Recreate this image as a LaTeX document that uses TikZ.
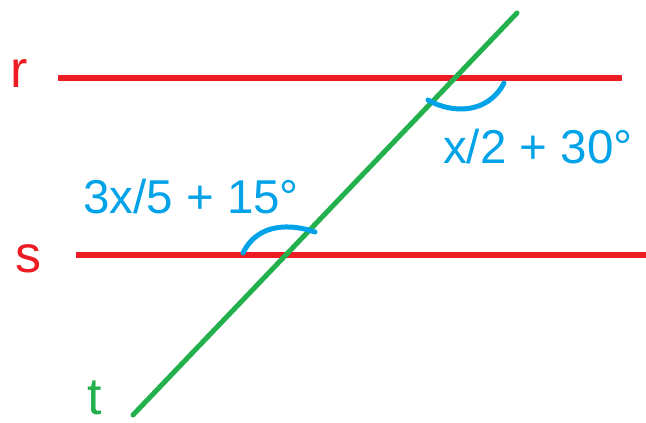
\documentclass[tikz,border=0pt]{standalone}
\usepackage{fontspec}
\setmainfont{Liberation Sans}
\usetikzlibrary{positioning}
\definecolor{paintRed}{RGB}{237,28,36}
\definecolor{paintGreen}{RGB}{34,177,76}
\definecolor{paintBlue}{RGB}{0,162,232}

\begin{document}
\begin{tikzpicture}[
  x=1pt, y=-1pt,
  parallel/.style={draw=paintRed, line width=5.5pt},
  transversal/.style={draw=paintGreen, line width=5pt, line cap=round},
  anglemark/.style={draw=paintBlue, line width=5pt, line cap=round, line join=round},
  linename/.style={font=\fontsize{52}{56}\selectfont, text=#1, inner sep=0pt, anchor=base west},
  anglelabel/.style={font=\fontsize{47.5}{52}\selectfont, text=paintBlue, inner sep=0pt, anchor=base west},
]
\useasboundingbox (0,0) rectangle (646,423);

% --- End points of the three lines -----------------------------------------
\coordinate (rA) at (58,78);
\coordinate (rB) at (622,78);
\coordinate (sA) at (76,255);
\coordinate (sB) at (646,255);
\coordinate (tA) at (133,415);
\coordinate (tB) at (517,13);

% --- Lines r, s and transversal t ------------------------------------------
\draw[parallel] (rA) -- (rB);
\draw[parallel] (sA) -- (sB);
\draw[transversal] (tA) -- (tB);

% --- Angle marks -------------------------------------------------------------
\coordinate (rArcA) at (428,100);
\coordinate (rArcB) at (504,83);
\coordinate (sArcA) at (243,253);
\coordinate (sArcB) at (315,232);
\draw[anglemark] (rArcA) .. controls (452,114) and (488,114) .. (rArcB);
\draw[anglemark] (sArcA) .. controls (258,222) and (292,224) .. (sArcB);

% --- Labels ------------------------------------------------------------------
\node[linename=paintRed]   (rName) at (10,87)  {r};
\node[linename=paintRed]   (sName) at (15,272) {s};
\node[linename=paintGreen] (tName) at (87,414) {t};
\node[anglelabel] (rAngle) at (443,163) {x/2 + 30°};
\node[anglelabel] (sAngle) at (83,213)  {3x/5 + 15°};

\end{tikzpicture}
\end{document}
